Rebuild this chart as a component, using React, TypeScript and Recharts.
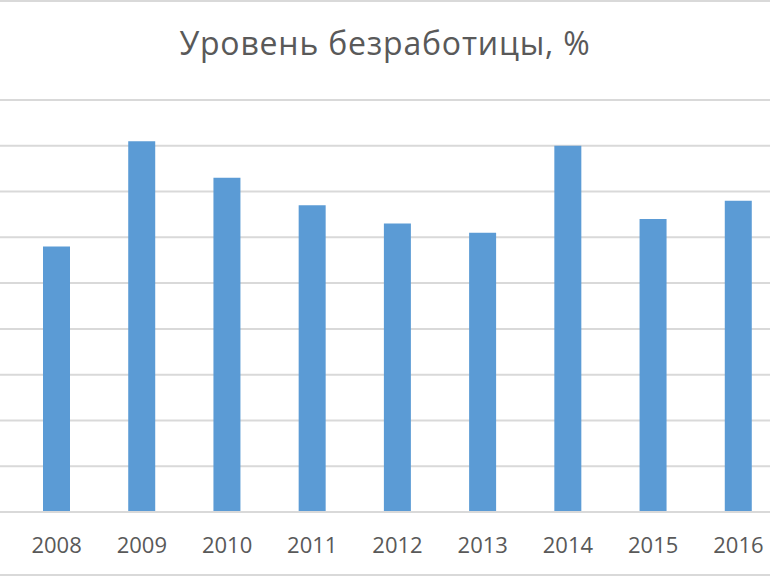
import React from "react";
import { BarChart, Bar, XAxis, YAxis, CartesianGrid } from "recharts";

// Уровень безработицы по годам, %
const years = ["2008", "2009", "2010", "2011", "2012", "2013", "2014", "2015", "2016"];
const unemployment = [5.8, 8.1, 7.3, 6.7, 6.3, 6.1, 8.0, 6.4, 6.8];
const yTicks = [0, 1, 2, 3, 4, 5, 6, 7, 8, 9];

const data = years.map((year, i) => ({ year, value: unemployment[i] }));

const GRID = "#d9d9d9";
const TEXT = "#595959";

const App: React.FC = () => {
  return (
    <div
      style={{
        position: "fixed",
        left: 0,
        top: 0,
        width: 770,
        height: 577,
        overflow: "hidden",
        background: "#fff",
        fontFamily: "'Open Sans', sans-serif",
      }}
    >
      {/* chart frame lines, top and bottom */}
      <div style={{ position: "absolute", left: 0, top: 0, width: 770, height: 2, background: GRID }} />
      <div style={{ position: "absolute", left: 0, top: 574, width: 770, height: 2, background: GRID }} />

      <div
        style={{
          position: "absolute",
          left: 0,
          top: 21,
          width: 770,
          textAlign: "center",
          fontSize: 32,
          lineHeight: "normal",
          letterSpacing: 0.8,
          color: TEXT,
        }}
      >
        Уровень безработицы, %
      </div>

      <div style={{ position: "absolute", left: 0, top: 0 }}>
        <BarChart
          width={800}
          height={577}
          data={data}
          margin={{ top: 100, right: 0, left: 0, bottom: 25 }}
          barSize={27}
        >
          <CartesianGrid vertical={false} stroke={GRID} strokeWidth={2} />
          <XAxis
            dataKey="year"
            padding={{ left: 14, right: 19 }}
            axisLine={{ stroke: GRID, strokeWidth: 2 }}
            tickLine={false}
            tickSize={0}
            tickMargin={25}
            height={40}
            tick={{ fill: TEXT, fontSize: 22, fontFamily: "'Open Sans', sans-serif" }}
          />
          {/* value axis is cropped off in the original: ticks kept for the grid, labels invisible */}
          <YAxis
            width={0}
            domain={[0, 9]}
            ticks={yTicks}
            axisLine={false}
            tickLine={false}
            tick={{ fill: "transparent", fontSize: 1 }}
          />
          <Bar dataKey="value" fill="#5b9bd5" isAnimationActive={false} />
        </BarChart>
      </div>
    </div>
  );
};

export default App;
